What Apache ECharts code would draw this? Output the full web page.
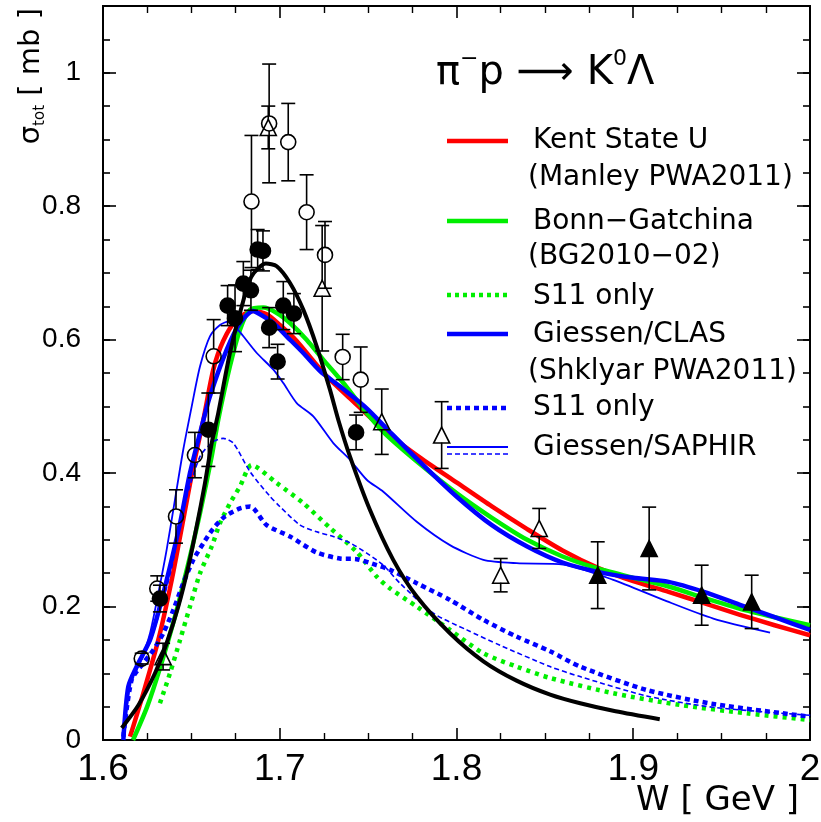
<!DOCTYPE html>
<html><head><meta charset="utf-8">
<script src="https://cdn.jsdelivr.net/npm/echarts@6/dist/echarts.min.js"></script>
<style>html,body{margin:0;padding:0;background:#fff}#c{width:821px;height:822px}</style>
</head><body><div id="c"></div>
<script>
// ---------- tick labels ----------
const xTickLabels = ['1.6', '1.7', '1.8', '1.9', '2'];
const yTickLabels = ['0', '0.2', '0.4', '0.6', '0.8', '1'];

// ---------- model curves [W (GeV), sigma (mb)] ----------
const kentState = [[1.6153,0.005],[1.6228,0.07],[1.6313,0.15],[1.6389,0.24],[1.6454,0.33],[1.6511,0.41],[1.6568,0.48],[1.6624,0.555],[1.668,0.598],[1.6756,0.63],[1.685,0.643],[1.6926,0.638],[1.7001,0.622],[1.7096,0.598],[1.719,0.568],[1.7266,0.545],[1.7397,0.512],[1.76,0.462],[1.78,0.422],[1.8,0.386],[1.82,0.35],[1.84,0.316],[1.86,0.284],[1.88,0.258],[1.9,0.238],[1.92,0.222],[1.94,0.205],[1.96,0.188],[1.98,0.172],[2.0,0.157]];
const bonnGatchina = [[1.617,0.0],[1.625,0.05],[1.6325,0.11],[1.6407,0.185],[1.6483,0.265],[1.6549,0.34],[1.6615,0.425],[1.6652,0.48],[1.6718,0.56],[1.6775,0.615],[1.6832,0.645],[1.6907,0.648],[1.6983,0.64],[1.7058,0.625],[1.7152,0.6],[1.7246,0.57],[1.736,0.535],[1.7492,0.49],[1.76,0.458],[1.78,0.412],[1.8,0.37],[1.82,0.333],[1.84,0.3],[1.86,0.275],[1.88,0.257],[1.9,0.243],[1.92,0.23],[1.94,0.213],[1.96,0.197],[1.98,0.184],[2.0,0.172]];
const bonnGatchinaS11 = [[1.6322,0.055],[1.6379,0.1],[1.6436,0.15],[1.6492,0.2],[1.6549,0.25],[1.6615,0.29],[1.6662,0.325],[1.6719,0.355],[1.6775,0.38],[1.6841,0.412],[1.6983,0.385],[1.7133,0.355],[1.7284,0.318],[1.7435,0.282],[1.7548,0.245],[1.7624,0.227],[1.7775,0.2],[1.7963,0.165],[1.8152,0.13],[1.834,0.11],[1.8529,0.093],[1.8887,0.07],[1.9264,0.0525],[1.9642,0.04],[2.0,0.03]];
const giessenCLAS = [[1.6115,0.0],[1.6143,0.08],[1.619,0.11],[1.6266,0.15],[1.6322,0.2],[1.6379,0.26],[1.6436,0.325],[1.6492,0.4],[1.6549,0.46],[1.6605,0.515],[1.67,0.585],[1.6775,0.625],[1.685,0.643],[1.6888,0.638],[1.6964,0.625],[1.7039,0.605],[1.7133,0.58],[1.7228,0.553],[1.734,0.53],[1.7492,0.497],[1.76,0.468],[1.78,0.415],[1.8,0.365],[1.82,0.322],[1.84,0.29],[1.86,0.266],[1.88,0.252],[1.9,0.243],[1.92,0.237],[1.94,0.222],[1.96,0.203],[1.98,0.184],[2.0,0.165]];
const giessenCLASS11 = [[1.6115,0.005],[1.6162,0.09],[1.6228,0.115],[1.6285,0.135],[1.6341,0.16],[1.6398,0.195],[1.6454,0.235],[1.6511,0.27],[1.6568,0.295],[1.6624,0.317],[1.669,0.335],[1.6775,0.347],[1.6832,0.35],[1.6926,0.322],[1.7058,0.305],[1.7209,0.281],[1.734,0.272],[1.7435,0.271],[1.7548,0.262],[1.7624,0.255],[1.7775,0.235],[1.7963,0.21],[1.8152,0.18],[1.834,0.155],[1.8529,0.133],[1.8699,0.11],[1.9076,0.075],[1.9453,0.054],[2.0,0.035]];
const giessenSaphir = [[1.6115,0.01],[1.6153,0.085],[1.6209,0.115],[1.6266,0.16],[1.6313,0.22],[1.636,0.285],[1.6407,0.36],[1.6454,0.435],[1.6502,0.5],[1.6549,0.56],[1.6605,0.605],[1.6662,0.622],[1.6709,0.627],[1.6747,0.62],[1.6794,0.605],[1.687,0.58],[1.6964,0.555],[1.702,0.535],[1.7096,0.505],[1.719,0.485],[1.7303,0.445],[1.7397,0.42],[1.7492,0.39],[1.7586,0.372],[1.7775,0.327],[1.7963,0.292],[1.8152,0.27],[1.834,0.265],[1.8604,0.263],[1.8887,0.24],[1.917,0.21],[1.9453,0.182],[1.9774,0.161]];
const giessenSaphirS11 = [[1.6115,0.005],[1.6153,0.08],[1.62,0.11],[1.627,0.15],[1.633,0.2],[1.639,0.26],[1.6454,0.345],[1.6549,0.425],[1.6624,0.447],[1.668,0.452],[1.6737,0.445],[1.6832,0.402],[1.6945,0.365],[1.7,0.35],[1.7115,0.322],[1.7209,0.312],[1.7303,0.305],[1.74,0.295],[1.7492,0.28],[1.7586,0.262],[1.768,0.235],[1.7869,0.19],[1.8058,0.165],[1.8246,0.142],[1.8529,0.11],[1.8699,0.095],[1.9076,0.066],[1.9453,0.049],[2.0,0.037]];
const otherModel = [[1.6106,0.018],[1.62,0.052],[1.6294,0.1],[1.636,0.145],[1.6426,0.2],[1.6483,0.26],[1.653,0.32],[1.6577,0.385],[1.6615,0.445],[1.6652,0.49],[1.6718,0.58],[1.6785,0.65],[1.6841,0.695],[1.6922,0.714],[1.6983,0.71],[1.7058,0.685],[1.7133,0.645],[1.7209,0.59],[1.7284,0.525],[1.7331,0.48],[1.7397,0.425],[1.751,0.345],[1.7642,0.27],[1.7775,0.215],[1.7963,0.16],[1.8152,0.118],[1.834,0.089],[1.853,0.068],[1.87,0.055],[1.89,0.043],[1.915,0.031]];

// ---------- data points [W, sigma, error] ----------
const openCircles = [[1.6219,0.122,0.008],[1.6307,0.227,0.019],[1.6413,0.335,0.04],[1.652,0.427,0.034],[1.6626,0.575,0.055],[1.684,0.807,0.099],[1.694,0.924,0.089],[1.7048,0.896,0.058],[1.7152,0.791,0.056],[1.7256,0.727,0.05],[1.7356,0.574,0.034],[1.7458,0.54,0.049]];
const filledCircles = [[1.6322,0.212,0.02],[1.6596,0.465,0.055],[1.6705,0.651,0.03],[1.6747,0.632,0.05],[1.6794,0.684,0.033],[1.6837,0.674,0.03],[1.6875,0.735,0.03],[1.6905,0.733,0.03],[1.694,0.618,0.03],[1.6988,0.567,0.026],[1.702,0.651,0.036],[1.708,0.639,0.03],[1.7432,0.461,0.026]];
const openTriangles = [[1.634,0.125,0.02],[1.6935,0.918,0.032],[1.724,0.677,0.094],[1.7577,0.477,0.049],[1.7916,0.457,0.05],[1.825,0.247,0.025],[1.8468,0.317,0.03]];
const filledTriangles = [[1.8799,0.247,0.05],[1.909,0.287,0.062],[1.9387,0.217,0.045],[1.967,0.207,0.04]];

const FONT = 'DejaVu Sans';
const GREEN = '#00ee00', BLUE = '#0000ff', RED = '#ff0000';

function curve(name, data, color, width, type) {
  return {
    type: 'line', name, data, showSymbol: false, smooth: 0.25, z: 3,
    xAxisIndex: 0, yAxisIndex: 0, silent: true,
    lineStyle: { color, width, type: type || 'solid', cap: 'butt', join: 'round' }
  };
}
function errBars(name, pts, r) {
  return {
    type: 'custom', name, xAxisIndex: 0, yAxisIndex: 0, z: 6, silent: true,
    data: pts, encode: { x: 0, y: 1 },
    renderItem(params, api) {
      const x = api.value(0), y = api.value(1), e = api.value(2);
      const c = api.coord([x, y]), hi = api.coord([x, y + e]), lo = api.coord([x, y - e]);
      const st = { stroke: '#000', lineWidth: 1.6 };
      const ch = [];
      if (hi[1] < c[1] - r) ch.push({ type: 'line', shape: { x1: c[0], y1: hi[1], x2: c[0], y2: c[1] - r }, style: st });
      if (lo[1] > c[1] + r) ch.push({ type: 'line', shape: { x1: c[0], y1: c[1] + r, x2: c[0], y2: lo[1] }, style: st });
      ch.push({ type: 'line', shape: { x1: c[0] - 7, y1: hi[1], x2: c[0] + 7, y2: hi[1] }, style: st });
      ch.push({ type: 'line', shape: { x1: c[0] - 7, y1: lo[1], x2: c[0] + 7, y2: lo[1] }, style: st });
      return { type: 'group', children: ch };
    }
  };
}
function markers(name, pts, symbol, filled, size) {
  return {
    type: 'scatter', name, data: pts.map(p => [p[0], p[1]]), symbol, symbolSize: size,
    xAxisIndex: 0, yAxisIndex: 0, z: 7, silent: true,
    itemStyle: { color: filled ? '#000' : 'rgba(255,255,255,0)', borderColor: '#000', borderWidth: 1.6, opacity: 1 }
  };
}

const axisLine = { show: true, onZero: false, lineStyle: { color: '#000', width: 2 } };
function xAx(pos, labels) {
  return {
    type: 'value', position: pos, min: 1.6, max: 2.0, interval: 0.1,
    axisLine, splitLine: { show: false },
    axisTick: { show: true, inside: true, length: 12, lineStyle: { color: '#000', width: 1.6 } },
    minorTick: { show: true, splitNumber: 4, length: 7, lineStyle: { color: '#000', width: 1.4 } },
    minorSplitLine: { show: false },
    axisLabel: labels ? {
      show: true, margin: 11, color: '#000', fontFamily: 'Liberation Sans', fontSize: 37,
      formatter: v => { const i = Math.round((v - 1.6) / 0.1); return xTickLabels[i] || ''; }
    } : { show: false }
  };
}
function yAx(pos, interval, len, labels) {
  return {
    type: 'value', position: pos, min: 0, max: 1.1, interval,
    axisLine, splitLine: { show: false },
    axisTick: { show: true, inside: true, length: len, lineStyle: { color: '#000', width: 1.6 } },
    axisLabel: labels ? {
      show: true, margin: 22, color: '#000', fontFamily: 'Liberation Sans', fontSize: 28,
      formatter: v => { const i = Math.round(v / 0.2); return Math.abs(v - i * 0.2) < 1e-6 ? (yTickLabels[i] || '') : ''; }
    } : { show: false }
  };
}

const legendX1 = 447, legendX2 = 508;
function lg(y, color, width, dash) {
  return { type: 'line', shape: { x1: legendX1, y1: y, x2: legendX2, y2: y }, style: { stroke: color, lineWidth: width, lineDash: dash || null, lineCap: 'butt' }, z: 20 };
}
function tx(x, y, text, size) {
  return { type: 'text', x, y, style: { text, fill: '#000', font: `${size || 28}px "${FONT}"`, textVerticalAlign: 'middle' }, z: 20 };
}

const option = {
  animation: false,
  backgroundColor: '#fff',
  grid: { left: 103, right: 11, top: 6, bottom: 82, outerBoundsMode: 'none', containLabel: false },
  xAxis: [xAx('bottom', true), xAx('top', false)],
  yAxis: [yAx('left', 0.2, 13, true), yAx('right', 0.2, 13, false), yAx('left', 0.05, 7, false), yAx('right', 0.05, 7, false)],
  series: [
    curve('Kent State U', kentState, RED, 4.5),
    curve('Bonn-Gatchina', bonnGatchina, GREEN, 4.5),
    curve('Giessen/CLAS', giessenCLAS, BLUE, 4.5),
    curve('Giessen/SAPHIR', giessenSaphir, BLUE, 1.8),
    curve('BG S11 only', bonnGatchinaS11, GREEN, 4.5, [4, 5]),
    curve('Giessen S11 only', giessenCLASS11, BLUE, 4.5, [5, 4]),
    curve('Giessen/SAPHIR S11', giessenSaphirS11, BLUE, 1.6, [5, 3]),
    curve('other model', otherModel, '#000000', 4),
    errBars('err oc', openCircles, 7.5),
    errBars('err fc', filledCircles, 0),
    errBars('err ot', openTriangles, 7.5),
    errBars('err ft', filledTriangles, 0),
    markers('open circles', openCircles, 'circle', false, 15),
    markers('filled circles', filledCircles, 'circle', true, 15),
    markers('open triangles', openTriangles, 'triangle', false, 16),
    markers('filled triangles', filledTriangles, 'triangle', true, 16)
  ],
  graphic: [
    { type: 'text', x: 436, y: 48, z: 20, style: {
        text: '{a|π}{s|−}{a|p }{r|⟶}{a| K}{s|0}{a|Λ}',
        rich: {
          a: { fontFamily: FONT, fontSize: 40, lineHeight: 46, fill: '#000', verticalAlign: 'bottom' },
          r: { fontFamily: FONT, fontSize: 40, lineHeight: 46, fill: '#000', verticalAlign: 'bottom' },
          s: { fontFamily: FONT, fontSize: 22, lineHeight: 24, fill: '#000', verticalAlign: 'top' }
        } } },
    lg(141, RED, 4.5), tx(533, 141, 'Kent State U'), tx(528, 178, '(Manley PWA2011)'),
    lg(221, GREEN, 4.5), tx(533, 222, 'Bonn−Gatchina'), tx(528, 257, '(BG2010−02)'),
    lg(295, GREEN, 4.5, [4, 4]), tx(533, 297, 'S11 only'),
    lg(334, BLUE, 4.5), tx(533, 335, 'Giessen/CLAS'), tx(528, 372, '(Shklyar PWA2011)'),
    lg(408, BLUE, 4.5, [5, 4]), tx(533, 408, 'S11 only'),
    lg(447, BLUE, 1.8), lg(454, BLUE, 1.5, [5, 3]), tx(533, 448, 'Giessen/SAPHIR'),
    { type: 'text', x: 636, y: 801, z: 20, style: { text: 'W [ GeV ]', fill: '#000', font: `34px "${FONT}"`, textVerticalAlign: 'middle' } },
    { type: 'text', x: 31, y: 8, rotation: Math.PI / 2, z: 20, style: {
        text: '{a|σ}{b|tot}{a| [ mb ]}', textAlign: 'right', textVerticalAlign: 'middle',
        rich: { a: { fontFamily: FONT, fontSize: 29, lineHeight: 34, fill: '#000', verticalAlign: 'middle' },
                b: { fontFamily: FONT, fontSize: 15, lineHeight: 15, fill: '#000', verticalAlign: 'bottom' } } } }
  ]
};
const chart = echarts.init(document.getElementById('c'));
chart.setOption(option);
</script></body></html>
